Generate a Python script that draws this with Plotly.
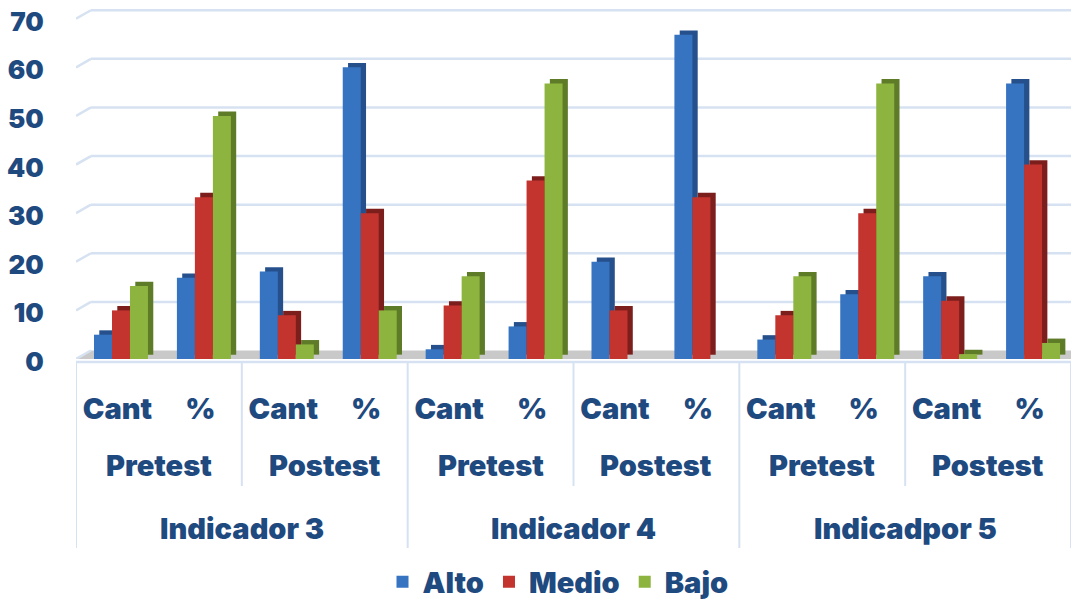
import plotly.graph_objects as go

# ---- data ----
inner_labels = ["Cant", "%"] * 6
test_labels = ["Pretest", "Postest"] * 3
indicator_labels = ["Indicador 3", "Indicador 4", "Indicadpor 5"]
series_names = ["Alto", "Medio", "Bajo"]
alto = [5, 16.7, 18, 60, 2, 6.7, 20, 66.7, 4, 13.3, 17, 56.7]
medio = [10, 33.3, 9, 30, 11, 36.7, 10, 33.3, 9, 30, 12, 40]
bajo = [15, 50, 3, 10, 17, 56.7, 0, 0, 17, 56.7, 1, 3.3]
y_ticks = [0, 10, 20, 30, 40, 50, 60, 70]

# ---- style ----
FONT = "Inter"
TXT = "#1F4A7F"
front_cols = ["#3674C2", "#C3342F", "#8DB43F"]
side_cols = ["#26508C", "#7C1F1C", "#5E7B28"]
GRID = "#D6E2F1"
W = 1078
H = 601
T = 9
B = 242
L = 76
R = 7
plot_h = H - T - B
YMAX = 72
DX = 0.064      # depth in category units
DY = 0.9        # depth in value units
BW = 0.217
offsets = [-0.283, -0.066, 0.151]
XS = 29

x = list(range(len(alto)))
series = [alto, medio, bajo]

fig = go.Figure()
# back / side faces
for vals, off, col in zip(series, offsets, side_cols):
    fig.add_trace(go.Bar(x=x, y=vals, base=DY, offset=off + DX, width=BW,
                         marker=dict(color=col, line=dict(width=0)),
                         showlegend=False, hoverinfo="skip"))
# front faces
for name, vals, off, col in zip(series_names, series, offsets, front_cols):
    fig.add_trace(go.Bar(x=x, y=vals, offset=off, width=BW, name=name,
                         marker=dict(color=col, line=dict(width=0))))

shapes = []
# back-wall gridlines with perspective slant
for v in y_ticks[1:]:
    shapes.append(dict(type="line", xref="x", yref="y", x0=-0.5, y0=v, x1=-0.32, y1=v + 1.75,
                       line=dict(color=GRID, width=2.5), layer="below"))
    shapes.append(dict(type="line", xref="x", yref="y", x0=-0.32, y0=v + 1.75, x1=11.5, y1=v + 1.75,
                       line=dict(color=GRID, width=2.5), layer="below"))
# floor
shapes.append(dict(type="path", xref="x", yref="y",
                   path="M -0.5,0 L -0.32,1.75 L 11.5,1.75 L 11.5,0 Z",
                   fillcolor="#C9C9C9", line=dict(width=0), layer="below"))
shapes.append(dict(type="line", xref="x", yref="y", x0=-0.5, y0=0, x1=-0.32, y1=1.75,
                   line=dict(color=GRID, width=2.5), layer="below"))
# category separators  (px converts a page y pixel to paper coords)
px = lambda p: (T + plot_h - p) / plot_h
for i in range(7):
    xb = -0.5 + 2 * i
    outer = (i % 2 == 0)
    shapes.append(dict(type="line", xref="x", yref="paper", x0=xb, x1=xb,
                       y0=px(362), y1=px(548) if outer else px(486),
                       line=dict(color=GRID, width=2)))
shapes.append(dict(type="line", xref="x", yref="paper", x0=-0.5, x1=11.5,
                   y0=px(362), y1=px(362), line=dict(color=GRID, width=2.5)))

annotations = []
for i, t in enumerate(test_labels):
    annotations.append(dict(x=0.5 + 2 * i, y=px(466), xref="x", yref="paper",
                            text=t, showarrow=False, yanchor="middle",
                            font=dict(family=FONT, size=XS, color=TXT, weight=900)))
for i, t in enumerate(indicator_labels):
    annotations.append(dict(x=1.5 + 4 * i, y=px(528), xref="x", yref="paper",
                            text=t, showarrow=False, yanchor="middle",
                            font=dict(family=FONT, size=XS, color=TXT, weight=900)))

fig.update_layout(
    width=W, height=H,
    margin=dict(l=L, r=R, t=T, b=B, autoexpand=False),
    paper_bgcolor="white", plot_bgcolor="white",
    barmode="overlay",
    shapes=shapes, annotations=annotations,
    legend=dict(orientation="h", xref="container", yref="container",
                x=558 / W, xanchor="center", y=1 - 582 / H, yanchor="middle",
                font=dict(family=FONT, size=XS, color=TXT, weight=900),
                traceorder="normal"),
    xaxis=dict(range=[-0.5, 11.5], tickvals=x, ticktext=inner_labels, automargin=False,
               showgrid=False, zeroline=False, showline=False,
               ticks="outside", ticklen=24, tickcolor="rgba(0,0,0,0)",
               tickfont=dict(family=FONT, size=XS, color=TXT, weight=900)),
    yaxis=dict(range=[0, YMAX], tickvals=y_ticks, showgrid=False, zeroline=False,
               automargin=False, showline=False, ticks="outside", ticklen=26,
               tickcolor="rgba(0,0,0,0)", ticklabeloverflow="allow", ticklabelshift=3,
               tickfont=dict(family=FONT, size=26, color=TXT, weight=900)),
)

fig.write_html("out.html", config={"displayModeBar": False},
               post_script="document.body.style.margin='0';document.body.style.padding='0';")
